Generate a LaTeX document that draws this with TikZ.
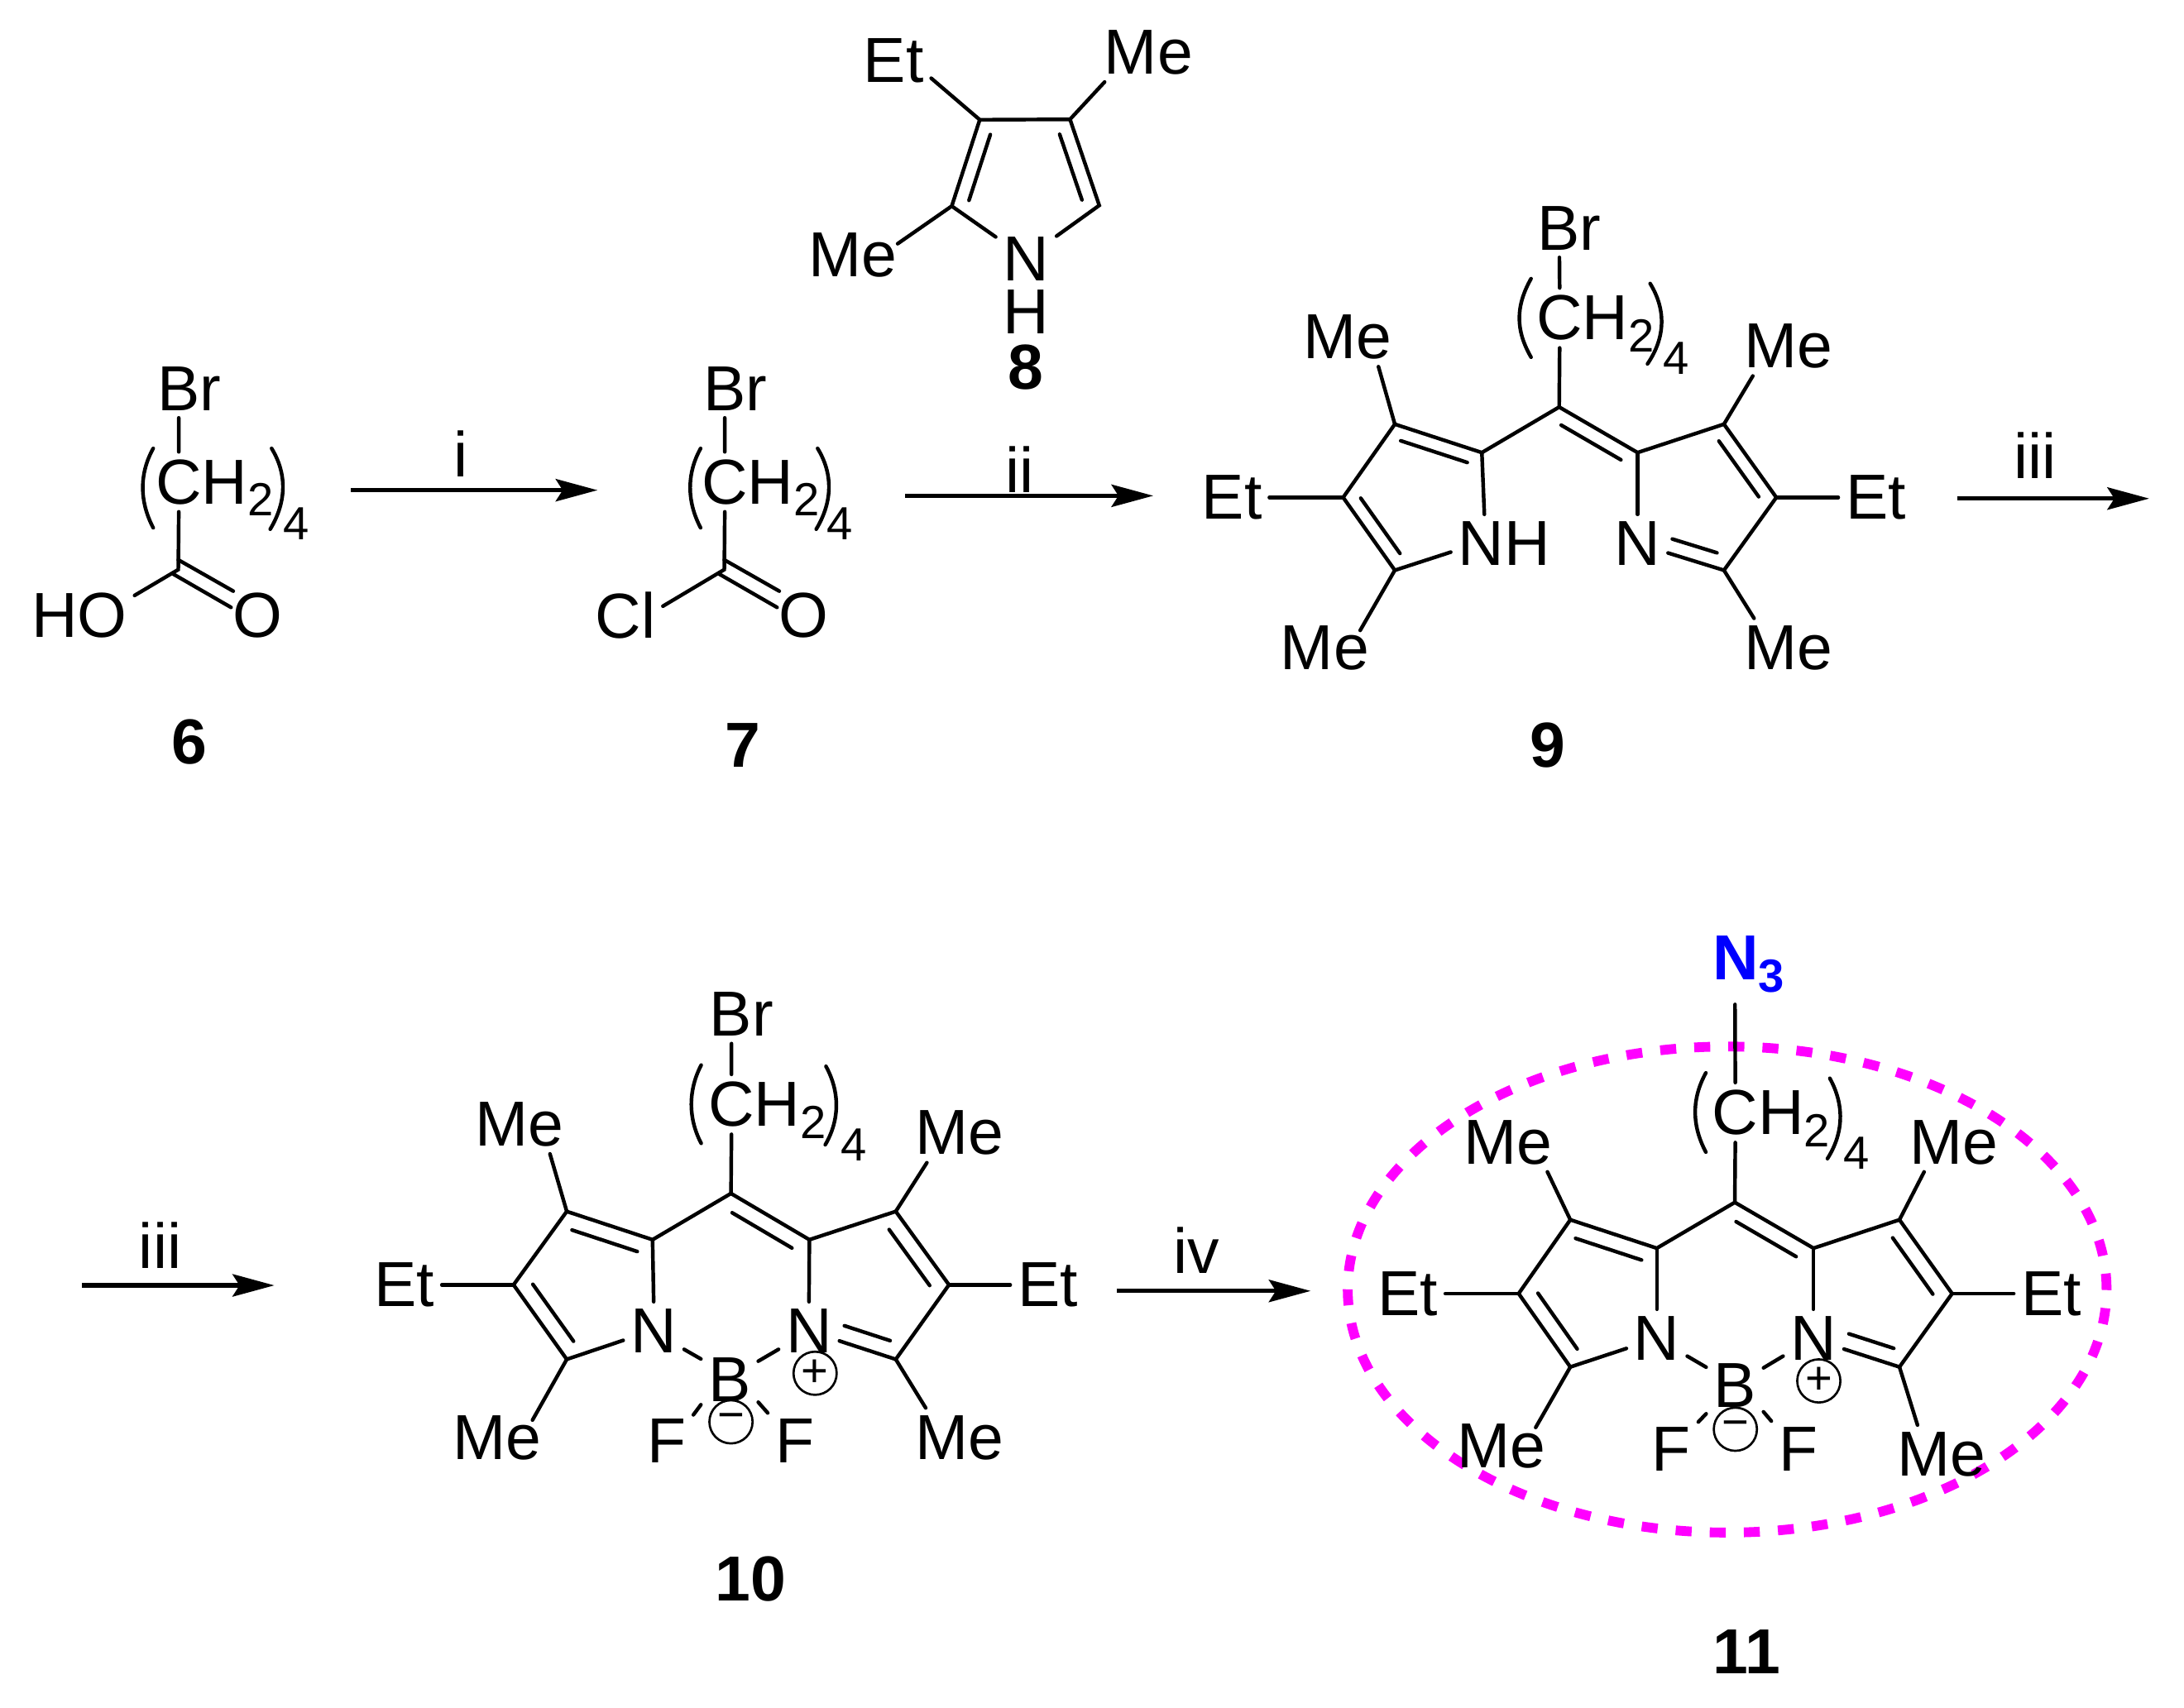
\documentclass[tikz,border=0pt]{standalone}
\usepackage{fontspec}
\setmainfont{Liberation Sans}
\usetikzlibrary{calc,arrows.meta}
\newcommand{\subdig}[1]{\raisebox{-5pt}[0pt][0pt]{\fontsize{19}{19}\selectfont #1}}
\newcommand{\inbond}[4][]{\draw [bond, shorten <=.155cm, shorten >=.155cm, #1] ($(#2)!#4!90:(#3)$) -- ($(#3)!#4!-90:(#2)$);}
\begin{document}
\begin{tikzpicture}[x=.02cm, y=.02cm,
  bond/.style={black, line width=1.5pt, line cap=round},
  rxn/.style={black, line width=1.8pt, -{Stealth[length=.6cm,width=.32cm,inset=.1cm]}},
  idx/.style={inner sep=0pt, font=\fontsize{19}{19}\selectfont},
  cmpd/.style={font=\fontsize{26}{26}\selectfont\bfseries},
  chg/.style={circle, draw, line width=.9pt, inner sep=0pt, minimum size=.62cm, font=\fontsize{19}{19}\selectfont},
  halo/.style={color={rgb,255:red,255;green,0;blue,255}, line width=4pt, dash pattern=on .23cm off .26cm}]
\tikzstyle{every node}+=[inner sep=.1cm, yshift=-.02cm, font=\fontsize{26}{26}\selectfont]
\useasboundingbox (0,0) rectangle (1568,-1226);
\draw [halo] (1240,-926) ellipse (272.4 and 174.5);
% 6
\node (br6) at (136,-278) {Br};
\node (ch6) at (154,-345) {CH\subdig{2}};
\node [idx] (idx6) at (213,-375) {4};
\node (ho6) at (57,-441) {HO};
\node [inner sep=.02cm] (o6) at (185,-441) {O};
\node [cmpd] (lab6) at (136,-532) {6};
\coordinate (c6) at (128,-408);
\coordinate (c6a) at (128,-401);
\coordinate (c6b) at (124,-411);
\draw [bond] (br6.-110) -- (ch6.140);
\draw [bond] (ch6.-140) -- (c6) -- (ho6.20);
\draw [bond] (c6a) -- (o6.135);
\draw [bond] (c6b) -- (o6.163);
\draw [bond] (110,-322) .. controls (100,-340) and (100,-360) .. (110,-379);
\draw [bond] (195,-322) .. controls (206,-340) and (206,-360) .. (194,-380);
% 7
\node (br7) at (528,-278) {Br};
\node (ch7) at (546,-345) {CH\subdig{2}};
\node [idx] (idx7) at (603,-375) {4};
\node (cl7) at (449,-441) {Cl};
\node [inner sep=.02cm] (o7) at (577,-441) {O};
\node [cmpd] (lab7) at (533,-534) {7};
\coordinate (c7) at (520,-408);
\coordinate (c7a) at (520,-401);
\coordinate (c7b) at (516,-411);
\draw [bond] (br7.-110) -- (ch7.140);
\draw [bond] (ch7.-140) -- (c7) -- (cl7.14);
\draw [bond] (c7a) -- (o7.135);
\draw [bond] (c7b) -- (o7.163);
\draw [bond] (503,-322) .. controls (493,-340) and (493,-360) .. (503,-379);
\draw [bond] (587,-322) .. controls (598,-340) and (598,-360) .. (586,-380);
% 8
\node (n8) at (736.7,-185) {N};
\node (h8) at (736.7,-222.7) {H};
\node (et8) at (641.6,-42.6) {Et};
\node (me8a) at (824.6,-36.6) {Me};
\node [inner xsep=0pt] (me8b) at (612.4,-182) {Me};
\node [cmpd] (lab8) at (736.7,-263) {8};
\coordinate (a8) at (703.4,-85);
\coordinate (b8) at (768.2,-84.7);
\coordinate (c8) at (789.2,-146.5);
\coordinate (d8) at (683.3,-147);
\draw [bond] (et8.-25) -- (a8) -- (b8) -- (me8a.-146);
\draw [bond] (a8) -- (d8) -- (n8.144);
\draw [bond] (b8) -- (c8) -- (n8.37);
\draw [bond] (d8) -- (me8b.14.6);
\inbond{a8}{d8}{.21cm}
\inbond{c8}{b8}{.21cm}
% 9
\node (br9) at (1126.4,-162.8) {Br};
\node (ch9) at (1145.4,-227.3) {CH\subdig{2}};
\node [idx] (idx9) at (1203.5,-256.5) {4};
\node (nh9) at (1079.9,-389.4) {NH};
\node (n9) at (1175.7,-389.4) {N};
\node (et9a) at (884.4,-356.2) {Et};
\node (et9b) at (1346.7,-356.2) {Et};
\node (me9a) at (967.6,-241) {Me};
\node (me9b) at (1283.8,-247.7) {Me};
\node (me9c) at (951.1,-464.3) {Me};
\node (me9d) at (1283.8,-464.3) {Me};
\node [cmpd] (lab9) at (1111,-534) {9};
\coordinate (m9) at (1119.4,-291.3);
\coordinate (l9a) at (1063.9,-324);
\coordinate (l9b) at (1001.4,-303.6);
\coordinate (l9c) at (964.3,-356.2);
\coordinate (l9d) at (1001.4,-408.5);
\coordinate (r9a) at (1175.7,-324);
\coordinate (r9b) at (1237.7,-303.6);
\coordinate (r9c) at (1275.3,-356.2);
\coordinate (r9d) at (1237.7,-408.5);
\draw [bond] (br9.-108) -- (ch9.140);
\draw [bond] (ch9.-140) -- (m9);
\draw [bond] (m9) -- (l9a) -- (l9b) -- (l9c) -- (l9d) -- (nh9.-171);
\draw [bond] (m9) -- (r9a) -- (r9b) -- (r9c) -- (r9d) -- (n9.-17);
\draw [bond] (l9a) -- (nh9.124);
\draw [bond] (r9a) -- (n9.north);
\draw [bond] (l9c) -- (et9a.east);
\draw [bond] (r9c) -- (et9b.west);
\draw [bond] (l9b) -- (me9a.-44);
\draw [bond] (r9b) -- (me9b.-140);
\draw [bond, shorten >=-.2cm] (l9d) -- (me9c.35);
\draw [bond] (r9d) -- (me9d.139);
\inbond{l9a}{l9b}{.2cm}
\inbond{l9c}{l9d}{.2cm}
\inbond{r9a}{m9}{.21cm}
\inbond{r9c}{r9b}{.2cm}
\inbond[shorten <=0cm, shorten >=.17cm]{n9.-17}{r9d}{.21cm}
\draw [bond] (1099.2,-200.1) .. controls (1088,-220) and (1088,-237) .. (1099.2,-256.5);
\draw [bond] (1184.7,-203.6) .. controls (1196,-222) and (1196,-242) .. (1182.8,-261.3);
% 10
\node (br10) at (532.4,-727.3) {Br};
\node (ch10) at (550.8,-792) {CH\subdig{2}};
\node [idx] (idx10) at (613,-821) {4};
\node (nl10) at (469.3,-954.8) {N};
\node (nr10) at (580.8,-954.8) {N};
\node (b10) at (523.8,-989.8) {B};
\node (fl10) at (478.5,-1033.6) {F};
\node (fr10) at (570.5,-1033.6) {F};
\node (et10a) at (290.3,-921.6) {Et};
\node (et10b) at (752.2,-921.6) {Et};
\node (me10a) at (372.8,-806.3) {Me};
\node (me10b) at (689.1,-812.6) {Me};
\node (me10c) at (356.8,-1031.3) {Me};
\node (me10d) at (689.1,-1031.3) {Me};
\node [chg] (mi10) at (524.8,-1020) {−};
\node [chg] (pl10) at (585.2,-985.1) {+};
\node [cmpd] (lab10) at (539,-1133) {10};
\coordinate (m10) at (524.8,-856);
\coordinate (l10a) at (468.5,-889.2);
\coordinate (l10b) at (406.9,-868.9);
\coordinate (l10c) at (368.7,-921.6);
\coordinate (l10d) at (406.9,-975.1);
\coordinate (r10a) at (581.1,-889.2);
\coordinate (r10b) at (643.1,-868.9);
\coordinate (r10c) at (681.3,-921.6);
\coordinate (r10d) at (643.1,-975.1);
\draw [bond] (br10.-109) -- (ch10.140);
\draw [bond] (ch10.-140) -- (m10);
\draw [bond] (m10) -- (l10a) -- (l10b) -- (l10c) -- (l10d) -- (nl10.-163);
\draw [bond] (m10) -- (r10a) -- (r10b) -- (r10c) -- (r10d) -- (nr10.-18);
\draw [bond] (l10a) -- (nl10.north);
\draw [bond] (r10a) -- (nr10.north);
\draw [bond] (nl10.-31) -- (b10.144);
\draw [bond] (b10.33) -- (nr10.-149);
\draw [bond] (b10.-139) -- (fl10.44);
\draw [bond] (b10.-38) -- (fr10.134);
\draw [bond] (l10c) -- (et10a.east);
\draw [bond] (r10c) -- (et10b.west);
\draw [bond] (l10b) -- (me10a.-44);
\draw [bond] (r10b) -- (me10b.-138);
\draw [bond, shorten >=-.2cm] (l10d) -- (me10c.35);
\draw [bond] (r10d) -- (me10d.139);
\inbond{l10a}{l10b}{.23cm}
\inbond{l10c}{l10d}{.23cm}
\inbond{r10a}{m10}{.23cm}
\inbond{r10c}{r10b}{.23cm}
\inbond[shorten <=0cm, shorten >=.16cm]{nr10.-18}{r10d}{.23cm}
\draw [bond] (503.4,-764.8) .. controls (494,-783) and (494,-803) .. (503.4,-821);
\draw [bond] (593,-765.7) .. controls (603,-784) and (603,-804) .. (592.5,-822);
% 11
\node [text=blue, font=\fontsize{26}{26}\selectfont\bfseries] (n311) at (1255.4,-686.7) {N\subdig{3}};
\node (ch11) at (1271.5,-797.9) {CH\subdig{2}};
\node [idx] (idx11) at (1332.6,-826.8) {4};
\node (nl11) at (1189.5,-960.2) {N};
\node (nr11) at (1302,-960.2) {N};
\node (b11) at (1245.5,-993.6) {B};
\node (fl11) at (1200,-1039.4) {F};
\node (fr11) at (1291,-1039.4) {F};
\node (et11a) at (1010.7,-927.9) {Et};
\node (et11b) at (1472.7,-927.9) {Et};
\node (me11a) at (1082.7,-819.2) {Me};
\node (me11b) at (1402.7,-819.2) {Me};
\node (me11c) at (1077.7,-1037.5) {Me};
\node (me11d) at (1393.9,-1043.6) {Me};
\node [chg] (mi11) at (1245.9,-1025.3) {−};
\node [chg] (pl11) at (1305.8,-990.6) {+};
\node [cmpd] (lab11) at (1254,-1185) {11};
\coordinate (m11) at (1245.5,-862.4);
\coordinate (l11a) at (1189.5,-895.3);
\coordinate (l11b) at (1127.4,-874.9);
\coordinate (l11c) at (1090.3,-927.9);
\coordinate (l11d) at (1127.4,-980.6);
\coordinate (r11a) at (1302,-895.3);
\coordinate (r11b) at (1363.7,-874.9);
\coordinate (r11c) at (1401.5,-927.9);
\coordinate (r11d) at (1363.7,-980.6);
\draw [bond, shorten <=.25cm] (n311.-115) -- (ch11.140);
\draw [bond] (ch11.-140) -- (m11);
\draw [bond] (m11) -- (l11a) -- (l11b) -- (l11c) -- (l11d) -- (nl11.-162);
\draw [bond] (m11) -- (r11a) -- (r11b) -- (r11c) -- (r11d) -- (nr11.-19);
\draw [bond] (l11a) -- (nl11.north);
\draw [bond] (r11a) -- (nr11.north);
\draw [bond] (nl11.-30) -- (b11.148);
\draw [bond] (b11.31) -- (nr11.-150);
\draw [bond] (b11.-135) -- (fl11.45);
\draw [bond] (b11.-43) -- (fr11.134);
\draw [bond] (l11c) -- (et11a.east);
\draw [bond] (r11c) -- (et11b.west);
\draw [bond] (l11b) -- (me11a.-37);
\draw [bond] (r11b) -- (me11b.-135);
\draw [bond, shorten >=-.18cm] (l11d) -- (me11c.36);
\draw [bond] (r11d) -- (me11d.129);
\inbond{l11a}{l11b}{.23cm}
\inbond{l11c}{l11d}{.23cm}
\inbond{r11a}{m11}{.23cm}
\inbond{r11c}{r11b}{.23cm}
\inbond[shorten <=0cm, shorten >=.16cm]{nr11.-19}{r11d}{.23cm}
\draw [bond] (1224.7,-770.4) .. controls (1214.5,-789) and (1214.5,-808) .. (1224.7,-827.3);
\draw [bond] (1313.7,-774.3) .. controls (1324,-793) and (1324,-813) .. (1312,-832);
% arrows
\coordinate (s1) at (252,-351);
\coordinate (e1) at (429,-351);
\coordinate (s2) at (650,-355);
\coordinate (e2) at (828,-355);
\coordinate (s3) at (1405,-357);
\coordinate (e3) at (1543,-357);
\coordinate (s4) at (59,-922);
\coordinate (e4) at (197,-922);
\coordinate (s5) at (802,-926);
\coordinate (e5) at (941,-926);
\draw [rxn] (s1) -- (e1);
\draw [rxn] (s2) -- (e2);
\draw [rxn] (s3) -- (e3);
\draw [rxn] (s4) -- (e4);
\draw [rxn] (s5) -- (e5);
\node (t1) at (331,-325) {i};
\node (t2) at (732,-336) {ii};
\node (t3) at (1461,-326) {iii};
\node (t4) at (115,-893) {iii};
\node (t5) at (859,-897) {iv};
\end{tikzpicture}
\end{document}
